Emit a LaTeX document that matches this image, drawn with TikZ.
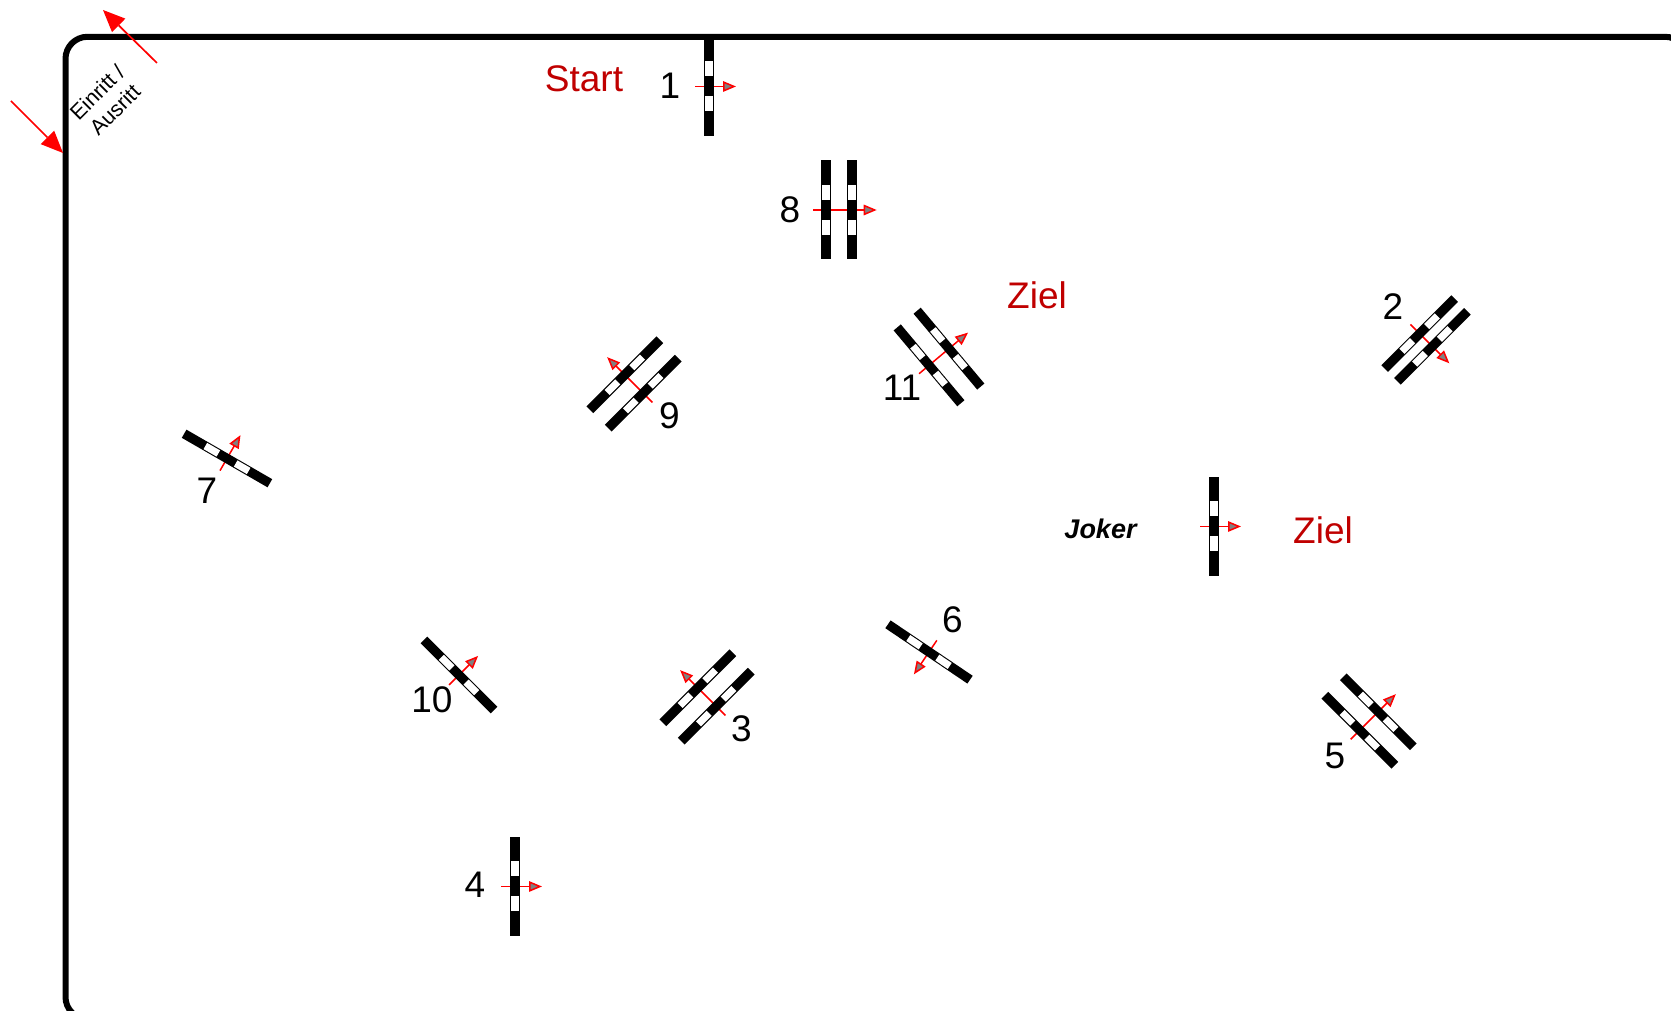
\documentclass[tikz,border=0pt]{standalone}
\usepackage{fontspec}
\setmainfont{Liberation Sans}
\usetikzlibrary{arrows.meta}
\definecolor{zielred}{HTML}{C00000}
\tikzset{
  x=1pt,y=1pt,
  bar/.style={fill=black,draw=none},
  sq/.style={fill=white,draw=none},
  redarrow/.style={draw=red,line width=1.5pt,-{Triangle[length=13pt,width=10.5pt,fill=gray,line width=1.5pt]}},
  bigarrow/.style={draw=red,line width=1.7pt,-{Triangle[length=22pt,width=19pt,fill=red,line width=0pt]}},
  num/.style={font=\fontsize{37}{37}\selectfont,text=black,inner sep=0pt},
  rlabel/.style={font=\fontsize{37}{37}\selectfont,text=zielred,inner sep=0pt},
  frameline/.style={draw=black,line width=6pt,rounded corners=22pt}
}
% bar drawn along local y, at local x offset #1
\newcommand{\gatebar}[1]{%
  \fill[bar] (#1-4.7,-49.5) rectangle (#1+4.7,49.5);
  \fill[sq] (#1-3.6,10) rectangle (#1+3.6,25);
  \fill[sq] (#1-3.6,-25) rectangle (#1+3.6,-10);
}
% single gate: x, y (image px), arrow angle
\newcommand{\gateone}[3]{%
  \begin{scope}[shift={(#1,1011-#2)},rotate=#3]
    \draw[redarrow] (-14,0) -- (27,0);
    \gatebar{0}
  \end{scope}}
% double gate: x, y, arrow angle, half spacing, arrow tail, arrow tip
\newcommand{\gatetwo}[6]{%
  \begin{scope}[shift={(#1,1011-#2)},rotate=#3]
    \draw[redarrow] (#5,0) -- (#6,0);
    \gatebar{-#4}\gatebar{#4}
  \end{scope}}
\newcommand{\lab}[4]{\node[#1] at (#2,1011-#3) {#4};}
\begin{document}
\begin{tikzpicture}
\useasboundingbox (0,0) rectangle (1671,1011);
\fill[white] (0,0) rectangle (1671,1011);
% frame
\begin{scope}
\clip (0,0) rectangle (1671,1011);
\draw[frameline] (1687,900) -- (1687,1011-36.8) -- (65.5,1011-36.8) -- (65.5,1011-1019) -- (1687,1011-1019);
\end{scope}
% entry arrows
\coordinate (ea1) at (11,1011-101);
\coordinate (eb1) at (63,1011-153);
\coordinate (ea2) at (157,1011-63);
\coordinate (eb2) at (103,1011-10);
\draw[bigarrow] (ea1) -- (eb1);
\draw[bigarrow] (ea2) -- (eb2);
\node[rotate=45,font=\fontsize{21.5}{25}\selectfont,align=center,inner sep=0pt] (einritt) at (106,1011-101) {Einritt /\\Ausritt};
% gates
\gateone{709}{86.5}{0}
\gatetwo{839}{210}{0}{13}{-26}{37.7}
\gatetwo{939}{357}{40}{13}{-26}{38}
\gatetwo{1426}{340}{-45}{9}{-22}{33}
\gatetwo{634}{384}{135}{13}{-26}{38}
\gateone{227}{458.5}{60}
\gateone{1214}{526.5}{0}
\gateone{929}{652}{236}
\gateone{459}{675}{45}
\gatetwo{707}{697}{135}{13}{-26}{38}
\gatetwo{1369}{721}{45}{13}{-26}{38}
\gateone{515}{886.5}{0}
% numbers
\lab{num}{670}{85.5}{1}
\lab{num}{790}{209.5}{8}
\lab{num}{1393}{306.5}{2}
\lab{num}{669.5}{415.5}{9}
\lab{num}{902}{387.5}{11}
\lab{num}{207}{490.5}{7}
\lab{num}{952.5}{619.5}{6}
\lab{num}{432}{699.5}{10}
\lab{num}{741.5}{728.5}{3}
\lab{num}{1335}{755.5}{5}
\lab{num}{475}{884.5}{4}
% labels
\lab{rlabel}{584}{79}{Start}
\lab{rlabel}{1037}{295}{Ziel}
\lab{rlabel}{1323}{530}{Ziel}
\node[font=\fontsize{27}{27}\selectfont\bfseries\itshape,inner sep=0pt] (joker) at (1100.5,1011-528.5) {Joker};
\end{tikzpicture}
\end{document}
